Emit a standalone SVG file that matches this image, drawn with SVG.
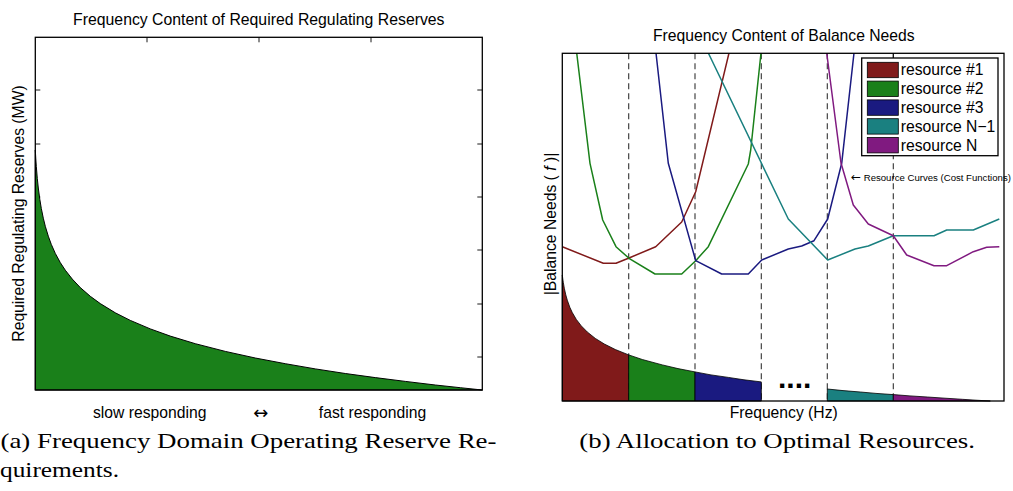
<svg xmlns="http://www.w3.org/2000/svg" width="1013" height="491" viewBox="0 0 1013 491">
<style>
.ax{fill:none;stroke:#000;stroke-width:1.3}
.tk{stroke:#000;stroke-width:0.9}
.t{font-family:"Liberation Sans",Arial,sans-serif;font-size:15.7px;fill:#000}
.arr{font-family:"DejaVu Sans",sans-serif}
.cap{font-family:"Liberation Serif","Times New Roman",serif;font-size:21px;fill:#000}
.dash{stroke:#333;stroke-width:1.1;stroke-dasharray:6,4;fill:none}
.ln{fill:none;stroke-width:1.5;stroke-linejoin:round}
.pt{stroke:#000;stroke-width:0.8}
.sw{stroke:#000;stroke-width:0.8}
</style>
<defs>
<clipPath id="clipR"><rect x="562.3" y="53.3" width="441.7" height="347.7"/></clipPath>
</defs>
<rect width="1013" height="491" fill="#fff"/>

<g id="plotA">
  <text class="t" x="258.8" y="25" text-anchor="middle" style="font-size:15.8px">Frequency Content of Required Regulating Reserves</text>
  <g id="ticksA">
    <path class="tk" d="M147,37.3v5M259,37.3v5M371,37.3v5M147,390v-5M259,390v-5M371,390v-5M482.3,90h-5M482.3,144h-5M482.3,197h-5M482.3,250h-5M482.3,304h-5M482.3,357h-5M35.3,90h5M35.3,144h5M35.3,197h5M35.3,250h5M35.3,304h5M35.3,357h5"/>
  </g>
  <path id="fillA" fill="#1a801a" stroke="#000" stroke-width="1" stroke-linejoin="round" d="M35.3,390 L35.3,150 L35.8,158.9 L36.3,166.4 L37.3,178.5 L38.3,188 L39.8,199.3 L41.3,208.4 L43.3,218.2 L45.3,226.3 L48.3,236.2 L51.3,244.4 L55.3,253.4 L60.3,262.6 L65.3,270.2 L72.3,279.1 L80.3,287.6 L90.3,296.3 L100.3,303.6 L115.3,312.8 L130.3,320.4 L150.3,328.9 L170.3,336.1 L195.3,343.7 L225.3,351.4 L255.3,358 L285.3,363.7 L315.3,368.9 L345.3,373.5 L375.3,377.6 L405.3,381.4 L435.3,385 L460.3,387.7 L482.3,390 Z"/>
  <rect class="ax" x="35.3" y="37.3" width="447" height="352.7"/>
  <text class="t" transform="translate(24,213.5) rotate(-90)" text-anchor="middle">Required Regulating Reserves (MW)</text>
  <text class="t" x="149.7" y="418.3" text-anchor="middle">slow responding</text>
  <text class="t arr" x="260.7" y="418.5" text-anchor="middle" style="font-size:18px">↔</text>
  <text class="t" x="372.5" y="418.3" text-anchor="middle">fast responding</text>
  <text class="cap" x="0.5" y="448.3" textLength="496" lengthAdjust="spacingAndGlyphs">(a) Frequency Domain Operating Reserve Re-</text>
  <text class="cap" x="0" y="476.7" textLength="119" lengthAdjust="spacingAndGlyphs">quirements.</text>
</g>

<g id="plotB">
  <text class="t" x="783.8" y="40.7" text-anchor="middle">Frequency Content of Balance Needs</text>
  <g id="dividers">
    <path class="dash" d="M628.7,53.3V401M695,53.3V401M761.3,53.3V401M827.3,53.3V401M893.3,53.3V401"/>
  </g>
  <g id="allocation">
    <path id="p1" class="pt" fill="#801a1a" d="M562.3,401 L562.3,275 L562.8,279 L563.3,282.4 L564.3,288.2 L565.8,294.9 L567.3,300.2 L569.8,307.2 L572.3,312.6 L576.3,319.4 L581.3,325.9 L587.3,332 L595.3,338.4 L604.3,344 L615.3,349.5 L628.7,354.9 L628.7,401 Z"/>
    <path id="p2" class="pt" fill="#1a801a" d="M628.7,401 L628.7,354.9 L642.3,359.5 L662.3,364.9 L678,368.6 L695,371.9 L695,401 Z"/>
    <path id="p3" class="pt" fill="#1a1a80" d="M695,401 L695,371.9 L711,374.9 L728.3,377.4 L744,379.8 L761.3,381.9 L761.3,401 Z"/>
    <path id="p4" class="pt" fill="#1a8080" d="M827.3,401 L827.3,389 L843,390.6 L860.3,392 L876,393.4 L893.3,394.6 L893.3,401 Z"/>
    <path id="p5" class="pt" fill="#801a80" d="M893.3,401 L893.3,394.6 L910,395.9 L927.3,397 L945,398.2 L962.3,399.3 L976,400.2 L990.3,401 Z"/>
    <text x="778" y="387.5" font-family="Liberation Sans,Arial,sans-serif" font-size="30" font-weight="bold">....</text>
  </g>
  <g id="curves" clip-path="url(#clipR)">
    <polyline class="ln" stroke="#801a1a" points="562.3,246.7 603.3,263.3 616,263.3 629,258 655.7,246.7 681.7,222 695.7,191.7 729,53 735,28"/>
    <polyline class="ln" stroke="#1a801a" points="574,30 576.7,53 590,163.3 602.7,220 616,246.7 629,258.3 655,274 681.7,274 695.7,260.7 708.3,246.7 748.3,164 750.7,150 761,53 763,30"/>
    <polyline class="ln" stroke="#1a1a80" points="653.5,30 656,53 668.3,163.3 695.7,260.7 721.7,274 748.3,274 761.7,260 788.3,249 801.7,246 814,240.7 827.7,219 841.7,163.3 854,53 857,30"/>
    <polyline class="ln" stroke="#1a8080" points="697,30 708.3,53 788.3,219 827.7,260 855,249 868.3,246 893.3,235.7 934,235.7 946.7,230 973.3,230 999.3,219"/>
    <polyline class="ln" stroke="#801a80" points="823.5,30 826.7,53 841,163 853.3,205 868.3,224 893.3,235.7 906.7,255 934,265.7 946.7,265.7 973.3,251.7 986.7,247.3 999.3,246.7"/>
  </g>
  <path class="tk" d="M893.3,53.3v5"/>
  <rect class="ax" x="562.3" y="53.3" width="441.7" height="347.7"/>
  <text x="851" y="181" font-family="Liberation Sans,Arial,sans-serif" font-size="9.6" fill="#000"><tspan class="arr" font-size="12">←</tspan> Resource Curves (Cost Functions)</text>
  <g id="legend">
    <rect x="861.7" y="58" width="136.3" height="97.7" fill="#fff" stroke="#000" stroke-width="1.3"/>
    <rect class="sw" x="867.3" y="62.3" width="31" height="15.4" fill="#801a1a"/>
    <rect class="sw" x="867.3" y="81.1" width="31" height="15.4" fill="#1a801a"/>
    <rect class="sw" x="867.3" y="99.9" width="31" height="15.4" fill="#1a1a80"/>
    <rect class="sw" x="867.3" y="118.7" width="31" height="15.4" fill="#1a8080"/>
    <rect class="sw" x="867.3" y="137.5" width="31" height="15.4" fill="#801a80"/>
    <text class="t" x="900.7" y="75.3">resource #1</text>
    <text class="t" x="900.7" y="94.1">resource #2</text>
    <text class="t" x="900.7" y="112.9">resource #3</text>
    <text class="t" x="900.7" y="131.7">resource N−1</text>
    <text class="t" x="900.7" y="150.5">resource N</text>
  </g>
  <text class="t" transform="translate(555.5,224) rotate(-90)" text-anchor="middle">|Balance Needs ( <tspan font-style="italic">f</tspan> )|</text>
  <text class="t" x="783.7" y="418" text-anchor="middle">Frequency (Hz)</text>
  <text class="cap" x="579.3" y="448.3" textLength="395.7" lengthAdjust="spacingAndGlyphs">(b) Allocation to Optimal Resources.</text>
</g>
</svg>
